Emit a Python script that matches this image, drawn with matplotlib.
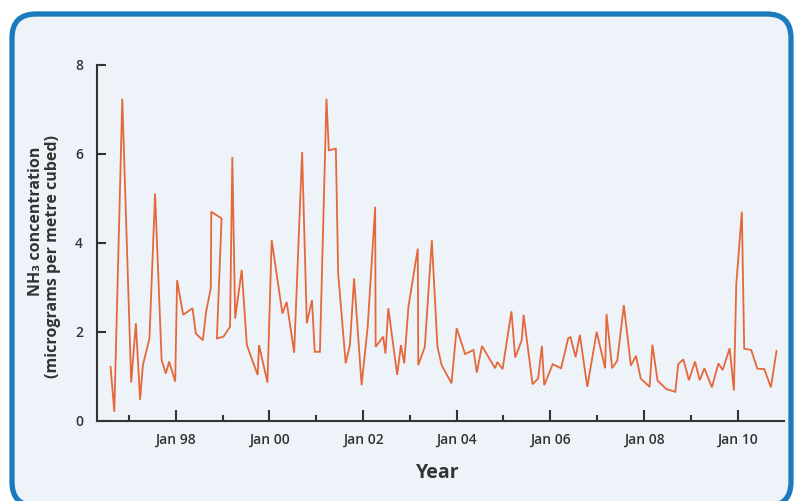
import matplotlib
matplotlib.use("Agg")
import matplotlib.pyplot as plt
from matplotlib.patches import FancyBboxPatch
from matplotlib.transforms import IdentityTransform

# sampling dates (decimal years) and NH3 concentration in micrograms per m3
dates = [1996.61, 1996.69, 1996.86, 1997.05, 1997.15, 1997.24, 1997.30, 1997.44,
         1997.56, 1997.70, 1997.79, 1997.86, 1997.99, 1998.03, 1998.16, 1998.36,
         1998.43, 1998.58, 1998.65, 1998.75, 1998.76, 1998.98, 1998.88, 1999.02,
         1999.16, 1999.21, 1999.27, 1999.41, 1999.52, 1999.75, 1999.78, 1999.96,
         2000.05, 2000.28, 2000.37, 2000.53, 2000.70, 2000.80, 2000.91, 2000.97,
         2001.08, 2001.22, 2001.27, 2001.42, 2001.47, 2001.63, 2001.72, 2001.81,
         2001.97, 2002.10, 2002.26, 2002.27, 2002.43, 2002.48, 2002.54, 2002.73,
         2002.81, 2002.88, 2002.97, 2003.17, 2003.18, 2003.32, 2003.47, 2003.59,
         2003.68, 2003.89, 2004.00, 2004.18, 2004.36, 2004.43, 2004.54, 2004.82,
         2004.87, 2004.98, 2005.17, 2005.25, 2005.39, 2005.43, 2005.62, 2005.74,
         2005.82, 2005.87, 2006.05, 2006.23, 2006.38, 2006.43, 2006.54, 2006.63,
         2006.79, 2006.99, 2007.17, 2007.20, 2007.32, 2007.43, 2007.57, 2007.72,
         2007.83, 2007.93, 2008.12, 2008.18, 2008.29, 2008.48, 2008.67, 2008.73,
         2008.84, 2008.96, 2009.09, 2009.19, 2009.29, 2009.45, 2009.59, 2009.68,
         2009.83, 2009.92, 2009.97, 2010.09, 2010.14, 2010.29, 2010.42, 2010.57,
         2010.71, 2010.83]
nh3 = [1.21, 0.20, 7.24, 0.86, 2.19, 0.47, 1.25, 1.85,
       5.11, 1.36, 1.06, 1.33, 0.88, 3.16, 2.38, 2.53,
       1.96, 1.81, 2.45, 2.98, 4.70, 4.55, 1.85, 1.89,
       2.11, 5.93, 2.30, 3.39, 1.70, 1.03, 1.70, 0.86,
       4.06, 2.41, 2.67, 1.53, 6.04, 2.19, 2.71, 1.55,
       1.55, 7.24, 6.08, 6.12, 3.31, 1.29, 1.70, 3.20,
       0.80, 2.11, 4.81, 1.66, 1.89, 1.51, 2.53, 1.03,
       1.70, 1.29, 2.56, 3.87, 1.25, 1.66, 4.06, 1.66,
       1.25, 0.84, 2.08, 1.50, 1.59, 1.08, 1.68, 1.18,
       1.32, 1.16, 2.46, 1.42, 1.81, 2.38, 0.82, 0.95,
       1.68, 0.80, 1.27, 1.18, 1.85, 1.88, 1.43, 1.93,
       0.76, 2.00, 1.18, 2.40, 1.18, 1.35, 2.60, 1.24,
       1.46, 0.95, 0.76, 1.71, 0.90, 0.71, 0.65, 1.27,
       1.38, 0.91, 1.33, 0.91, 1.18, 0.75, 1.29, 1.14,
       1.63, 0.68, 3.05, 4.70, 1.62, 1.59, 1.17, 1.16,
       0.75, 1.57]

year_ticks = [1998, 2000, 2002, 2004, 2006, 2008, 2010]
year_labels = ["Jan 98", "Jan 00", "Jan 02", "Jan 04", "Jan 06", "Jan 08", "Jan 10"]
minor_ticks = [1997, 1999, 2001, 2003, 2005, 2007, 2009]
conc_ticks = [0, 2, 4, 6, 8]

plt.rcParams["font.family"] = ["Open Sans", "DejaVu Sans"]
ink = "#333333"

fig = plt.figure(figsize=(7.95, 5.01), dpi=100, facecolor="white")

# rounded panel behind the chart, in pixel units
panel = FancyBboxPatch((12, -5), 779, 492,
                       boxstyle="round,pad=0,rounding_size=24",
                       transform=IdentityTransform(),
                       facecolor="#eef3fa", edgecolor="#1b7bbd", linewidth=3.8,
                       zorder=-5)
fig.patches.append(panel)

ax = fig.add_axes([97 / 795, 1 - 420.7 / 501, (784 - 97) / 795, (420.7 - 65) / 501])
ax.set_facecolor("none")
ax.plot(dates, nh3, color="#e5683a", linewidth=1.3, solid_joinstyle="miter")

ax.set_xlim(1996.32, 2010.99)
ax.set_ylim(0, 8)
ax.set_xticks(year_ticks)
ax.set_xticklabels(year_labels)
ax.set_xticks(minor_ticks, minor=True)
ax.set_yticks(conc_ticks)

for side in ["top", "right"]:
    ax.spines[side].set_visible(False)
for side in ["left", "bottom"]:
    ax.spines[side].set_color(ink)
    ax.spines[side].set_linewidth(1.5)

ax.tick_params(axis="both", which="major", direction="in", width=1.5,
               color=ink, labelcolor=ink, labelsize=10)
ax.tick_params(axis="x", which="major", length=8, pad=9)
ax.tick_params(axis="y", which="major", length=6.5, pad=10)
ax.tick_params(axis="x", which="minor", direction="in", length=4.3, width=1.5, color=ink)
for lab in ax.get_xticklabels() + ax.get_yticklabels():
    lab.set_fontweight("semibold")

fig.text(438 / 795, 1 - 473 / 501, "Year", ha="center", va="center",
         fontsize=14, fontweight="bold", color=ink)
fig.text(36 / 795, 1 - 221 / 501, "NH\u2083 concentration", rotation=90,
         ha="center", va="center", fontsize=11.5, fontweight="bold", color=ink)
fig.text(53.5 / 795, 1 - 256 / 501, "(micrograms per metre cubed)", rotation=90,
         ha="center", va="center", fontsize=11.5, fontweight="bold", color=ink)

fig.savefig("out.png", dpi=100, facecolor="white")
